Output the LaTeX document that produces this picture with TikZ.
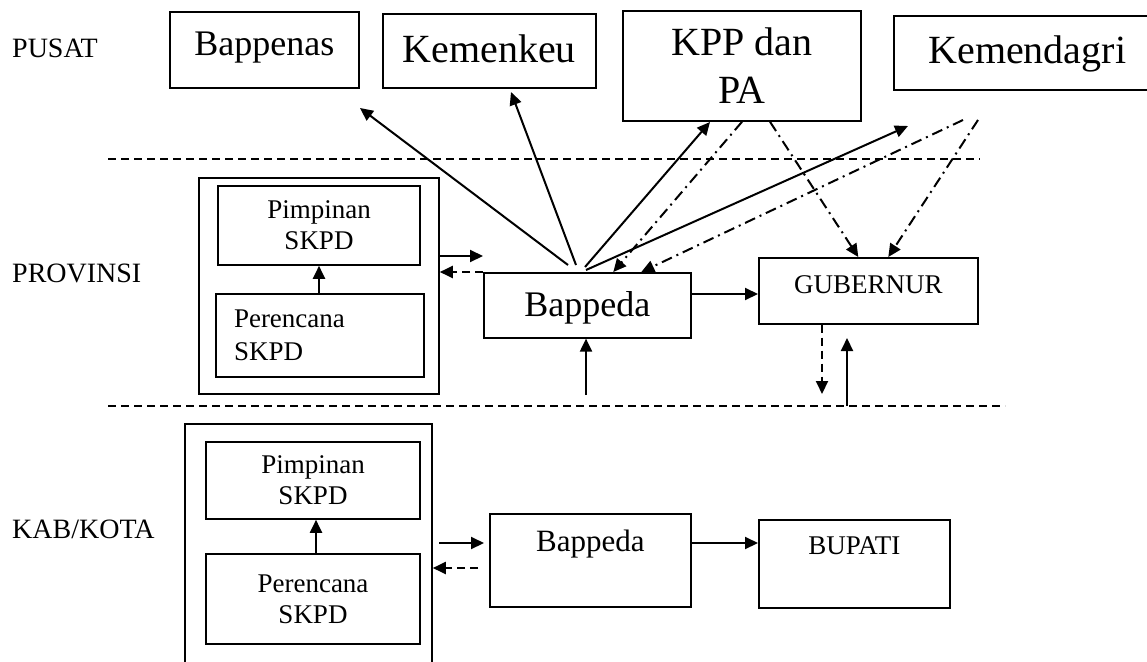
\documentclass[tikz,border=0pt]{standalone}
\usepackage{fontspec}
\setmainfont{Liberation Serif}
\usetikzlibrary{arrows.meta}

\tikzset{
	box/.style={draw, line width=1.6pt, inner sep=0pt},
	topbox/.style={box, anchor=north west},
	lbl/.style={anchor=base west, inner sep=0pt, font=\fontsize{28}{32}\selectfont},
	arr/.style={line width=2pt, -{Triangle[length=13pt,width=12pt]}},
	dline/.style={dash pattern=on 8pt off 5pt},
	ddot/.style={dash pattern=on 11pt off 5pt on 2pt off 5pt},
	levelline/.style={line width=1.5pt, dash pattern=on 8pt off 5pt},
}

\begin{document}
\begin{tikzpicture}[x=1pt,y=-1pt]
	\useasboundingbox (0,0) rectangle (1147,661);
	
	\node[lbl] (pusat) at (12,58) {PUSAT};
	\node[lbl] (prov) at (12,282) {PROVINSI};
	\node[lbl] (kab) at (12,538) {KAB/KOTA};
	
	\node[topbox, minimum width=189pt, text height=44pt, text depth=32pt, font=\fontsize{36}{40}\selectfont] (bappenas) at (169,11) {Bappenas};
	\node[topbox, minimum width=213pt, text height=49pt, text depth=25pt, font=\fontsize{40}{44}\selectfont] (kemenkeu) at (382,13) {Kemenkeu};
	\node[box, minimum width=238pt, minimum height=110pt, align=center, font=\fontsize{40}{48}\selectfont] (kpp) at (742,66) {KPP dan\\PA};
	\node[topbox, minimum width=267pt, text height=48pt, text depth=26pt, font=\fontsize{40}{44}\selectfont] (kemendagri) at (893,15) {Kemendagri};
	
	\draw[levelline] (108,159) -- (980,159);
	\draw[levelline] (108,406) -- (1005,406);
	
	\node[box, minimum width=240pt, minimum height=216pt] (pouter) at (319,286) {};
	\node[box, minimum width=202pt, minimum height=79pt, align=center, font=\fontsize{27}{31}\selectfont] (ppimp) at (319,225.5) {Pimpinan\\SKPD};
	\node[box, minimum width=208pt, minimum height=83pt, inner xsep=18pt, text width=172pt, align=left, font=\fontsize{27}{33}\selectfont] (pperen) at (320,335.5) {Perencana\\SKPD};
	\node[topbox, minimum width=207pt, text height=44pt, text depth=21pt, font=\fontsize{36}{40}\selectfont] (pbap) at (483,272) {Bappeda};
	\node[topbox, minimum width=219pt, text height=36pt, text depth=30pt, font=\fontsize{27}{31}\selectfont] (gub) at (758,257) {GUBERNUR};
	
	\node[box, minimum width=247pt, minimum height=256pt] (kouter) at (308.5,552) {};
	\node[box, minimum width=214pt, minimum height=77pt, align=center, font=\fontsize{27}{31}\selectfont] (kpimp) at (313,480.5) {Pimpinan\\SKPD};
	\node[box, minimum width=214pt, minimum height=90pt, align=center, font=\fontsize{27}{31}\selectfont] (kperen) at (313,599) {Perencana\\SKPD};
	\node[topbox, minimum width=201pt, text height=38pt, text depth=55pt, font=\fontsize{31}{35}\selectfont] (kbap) at (489,513) {Bappeda};
	\node[topbox, minimum width=191pt, text height=35pt, text depth=53pt, font=\fontsize{27}{31}\selectfont] (bupati) at (758,519) {BUPATI};
	
	\coordinate (s1) at (568,265);
	\coordinate (s2) at (576,265);
	\coordinate (s3) at (585,267);
	\coordinate (s4) at (586,270);
	\coordinate (t1) at (360,108);
	\coordinate (t2) at (511,92);
	\coordinate (t3) at (710,122);
	\coordinate (t4) at (908,126);
	\coordinate (u1) at (963,120);
	\coordinate (u2) at (978,120);
	\draw[arr] (s1) -- (t1);
	\draw[arr] (s2) -- (t2);
	\draw[arr] (s3) -- (t3);
	\draw[arr] (s4) -- (t4);
	\draw[arr,ddot] (kpp.south) -- ([xshift=26pt]pbap.north);
	\draw[arr,ddot] (u1) -- ([xshift=54pt]pbap.north);
	\draw[arr,ddot] ([xshift=28pt]kpp.south) -- ([xshift=-10pt]gub.north);
	\draw[arr,ddot] (u2) -- ([xshift=20pt]gub.north);
	
	\draw[arr] (ppimp.south |- pperen.north) -- (ppimp.south);
	\coordinate (pin) at (439,256);
	\draw[arr] (pin) -- (pin -| pbap.west);
	\draw[arr,dline] (pbap.north west) -- (pbap.north west -| pouter.east);
	\coordinate (pmid) at (690,294);
	\draw[arr] (pmid) -- (pmid -| gub.west);
	\coordinate (pbot) at (586,395);
	\draw[arr] (pbot) -- (pbot |- pbap.south);
	\coordinate (gdown) at (822,394);
	\coordinate (gup) at (847,406);
	\coordinate (gtop) at (847,338);
	\draw[arr,dline] (gdown |- gub.south) -- (gdown);
	\draw[arr] (gup) -- (gtop);
	
	\draw[arr] ([xshift=3pt]kpimp.south |- kperen.north) -- ([xshift=3pt]kpimp.south);
	\coordinate (kin) at (439,543);
	\coordinate (kback) at (478,568);
	\draw[arr] (kin) -- ([xshift=-5pt]kin -| kbap.west);
	\draw[arr,dline] (kback) -- (kback -| kouter.east);
	\draw[arr] (kin -| kbap.east) -- (kin -| bupati.west);
\end{tikzpicture}
\end{document}
